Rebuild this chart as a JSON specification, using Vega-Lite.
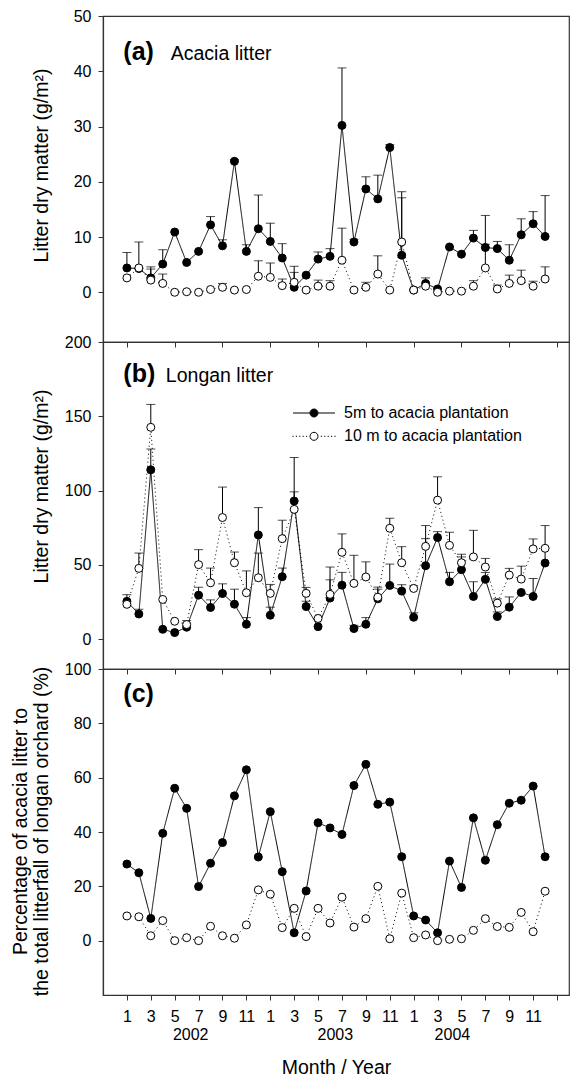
{
"$schema": "https://vega.github.io/schema/vega-lite/v6.json",
"padding": {"left": 9, "top": 7, "right": 0, "bottom": 0},
"background": "white",
"config": {
  "font": "Liberation Sans",
  "view": {"stroke": "#333", "strokeWidth": 1.2},
  "axis": {"grid": false, "domainColor": "#333", "domainWidth": 1.2, "tickColor": "#333", "tickSize": 5, "labelColor": "black", "titleColor": "black", "labelFont": "Liberation Sans", "titleFont": "Liberation Sans", "labelFontSize": 16, "titleFontSize": 19.5, "titleFontWeight": "normal", "labelPadding": 7}
},
"datasets": {
"a": [
{"m":1,"s":"5m","v":4.4,"e":7.2},{"m":1,"s":"10m","v":2.6,"e":null},
{"m":2,"s":"5m","v":4.3,"e":null},{"m":2,"s":"10m","v":4.4,"e":9.1},
{"m":3,"s":"5m","v":2.6,"e":4.6},{"m":3,"s":"10m","v":2.2,"e":4.2},
{"m":4,"s":"5m","v":5.1,"e":7.7},{"m":4,"s":"10m","v":1.6,"e":3.3},
{"m":5,"s":"5m","v":10.9,"e":null},{"m":5,"s":"10m","v":0.0,"e":null},
{"m":6,"s":"5m","v":5.4,"e":null},{"m":6,"s":"10m","v":0.1,"e":null},
{"m":7,"s":"5m","v":7.4,"e":null},{"m":7,"s":"10m","v":0.0,"e":null},
{"m":8,"s":"5m","v":12.2,"e":13.7},{"m":8,"s":"10m","v":0.5,"e":null},
{"m":9,"s":"5m","v":8.4,"e":9.5},{"m":9,"s":"10m","v":0.9,"e":1.6},
{"m":10,"s":"5m","v":23.7,"e":24.0},{"m":10,"s":"10m","v":0.4,"e":null},
{"m":11,"s":"5m","v":7.4,"e":8.6},{"m":11,"s":"10m","v":0.5,"e":null},
{"m":12,"s":"5m","v":11.5,"e":17.6},{"m":12,"s":"10m","v":2.9,"e":5.7},
{"m":13,"s":"5m","v":9.2,"e":12.5},{"m":13,"s":"10m","v":2.7,"e":5.3},
{"m":14,"s":"5m","v":6.2,"e":8.8},{"m":14,"s":"10m","v":1.2,"e":2.4},
{"m":15,"s":"5m","v":0.9,"e":3.6},{"m":15,"s":"10m","v":1.8,"e":4.7},
{"m":16,"s":"5m","v":3.1,"e":null},{"m":16,"s":"10m","v":0.4,"e":null},
{"m":17,"s":"5m","v":6.0,"e":7.3},{"m":17,"s":"10m","v":1.1,"e":2.2},
{"m":18,"s":"5m","v":6.5,"e":7.9},{"m":18,"s":"10m","v":1.1,"e":2.1},
{"m":19,"s":"5m","v":30.2,"e":40.6},{"m":19,"s":"10m","v":5.8,"e":11.6},
{"m":20,"s":"5m","v":9.1,"e":9.6},{"m":20,"s":"10m","v":0.4,"e":null},
{"m":21,"s":"5m","v":18.7,"e":20.9},{"m":21,"s":"10m","v":0.9,"e":1.8},
{"m":22,"s":"5m","v":16.9,"e":21.2},{"m":22,"s":"10m","v":3.3,"e":6.6},
{"m":23,"s":"5m","v":26.2,"e":26.7},{"m":23,"s":"10m","v":0.4,"e":null},
{"m":24,"s":"5m","v":6.7,"e":17.1},{"m":24,"s":"10m","v":9.1,"e":18.2},
{"m":25,"s":"5m","v":0.4,"e":null},{"m":25,"s":"10m","v":0.4,"e":null},
{"m":26,"s":"5m","v":1.6,"e":2.6},{"m":26,"s":"10m","v":1.1,"e":null},
{"m":27,"s":"5m","v":0.6,"e":null},{"m":27,"s":"10m","v":0.0,"e":null},
{"m":28,"s":"5m","v":8.2,"e":null},{"m":28,"s":"10m","v":0.2,"e":null},
{"m":29,"s":"5m","v":6.9,"e":null},{"m":29,"s":"10m","v":0.2,"e":null},
{"m":30,"s":"5m","v":9.8,"e":11.2},{"m":30,"s":"10m","v":1.1,"e":2.1},
{"m":31,"s":"5m","v":8.1,"e":8.7},{"m":31,"s":"10m","v":4.4,"e":13.9},
{"m":32,"s":"5m","v":7.9,"e":9.2},{"m":32,"s":"10m","v":0.6,"e":1.3},
{"m":33,"s":"5m","v":5.8,"e":8.6},{"m":33,"s":"10m","v":1.6,"e":3.1},
{"m":34,"s":"5m","v":10.4,"e":13.3},{"m":34,"s":"10m","v":2.1,"e":4.0},
{"m":35,"s":"5m","v":12.4,"e":14.6},{"m":35,"s":"10m","v":1.1,"e":2.0},
{"m":36,"s":"5m","v":10.1,"e":17.5},{"m":36,"s":"10m","v":2.4,"e":4.6}
],
"b": [
{"m":1,"s":"5m","v":25.5,"e":30.0},{"m":1,"s":"10m","v":23.5,"e":null},
{"m":2,"s":"5m","v":17.0,"e":20.2},{"m":2,"s":"10m","v":47.7,"e":58.0},
{"m":3,"s":"5m","v":114.0,"e":128.0},{"m":3,"s":"10m","v":142.6,"e":158.0},
{"m":4,"s":"5m","v":6.7,"e":null},{"m":4,"s":"10m","v":26.8,"e":null},
{"m":5,"s":"5m","v":4.5,"e":null},{"m":5,"s":"10m","v":12.1,"e":null},
{"m":6,"s":"5m","v":8.1,"e":11.0},{"m":6,"s":"10m","v":9.9,"e":12.6},
{"m":7,"s":"5m","v":29.7,"e":35.0},{"m":7,"s":"10m","v":50.2,"e":60.3},
{"m":8,"s":"5m","v":21.4,"e":26.5},{"m":8,"s":"10m","v":38.0,"e":47.9},
{"m":9,"s":"5m","v":30.8,"e":37.3},{"m":9,"s":"10m","v":81.9,"e":102.4},
{"m":10,"s":"5m","v":23.6,"e":33.7},{"m":10,"s":"10m","v":51.5,"e":58.7},
{"m":11,"s":"5m","v":10.1,"e":14.6},{"m":11,"s":"10m","v":31.3,"e":46.0},
{"m":12,"s":"5m","v":70.2,"e":88.6},{"m":12,"s":"10m","v":41.4,"e":58.0},
{"m":13,"s":"5m","v":16.2,"e":21.6},{"m":13,"s":"10m","v":30.9,"e":36.9},
{"m":14,"s":"5m","v":42.1,"e":47.9},{"m":14,"s":"10m","v":67.7,"e":80.1},
{"m":15,"s":"5m","v":93.0,"e":122.3},{"m":15,"s":"10m","v":87.4,"e":99.2},
{"m":16,"s":"5m","v":22.0,"e":25.6},{"m":16,"s":"10m","v":30.9,"e":34.9},
{"m":17,"s":"5m","v":8.5,"e":null},{"m":17,"s":"10m","v":14.0,"e":null},
{"m":18,"s":"5m","v":27.7,"e":40.0},{"m":18,"s":"10m","v":30.2,"e":48.6},
{"m":19,"s":"5m","v":36.4,"e":45.0},{"m":19,"s":"10m","v":58.5,"e":70.9},
{"m":20,"s":"5m","v":7.2,"e":9.4},{"m":20,"s":"10m","v":37.6,"e":56.5},
{"m":21,"s":"5m","v":10.1,"e":14.6},{"m":21,"s":"10m","v":41.9,"e":52.1},
{"m":22,"s":"5m","v":27.2,"e":35.1},{"m":22,"s":"10m","v":28.3,"e":33.7},
{"m":23,"s":"5m","v":36.2,"e":50.6},{"m":23,"s":"10m","v":74.7,"e":81.4},
{"m":24,"s":"5m","v":32.4,"e":36.7},{"m":24,"s":"10m","v":51.5,"e":62.3},
{"m":25,"s":"5m","v":14.8,"e":17.8},{"m":25,"s":"10m","v":34.2,"e":36.0},
{"m":26,"s":"5m","v":49.5,"e":67.7},{"m":26,"s":"10m","v":62.5,"e":76.5},
{"m":27,"s":"5m","v":68.4,"e":72.4},{"m":27,"s":"10m","v":93.6,"e":109.3},
{"m":28,"s":"5m","v":38.7,"e":45.0},{"m":28,"s":"10m","v":63.2,"e":72.0},
{"m":29,"s":"5m","v":46.8,"e":55.4},{"m":29,"s":"10m","v":51.5,"e":57.2},
{"m":30,"s":"5m","v":28.8,"e":38.7},{"m":30,"s":"10m","v":55.4,"e":73.3},
{"m":31,"s":"5m","v":40.3,"e":44.9},{"m":31,"s":"10m","v":48.6,"e":54.4},
{"m":32,"s":"5m","v":15.3,"e":18.4},{"m":32,"s":"10m","v":24.3,"e":27.2},
{"m":33,"s":"5m","v":21.6,"e":28.5},{"m":33,"s":"10m","v":43.2,"e":47.7},
{"m":34,"s":"5m","v":31.5,"e":null},{"m":34,"s":"10m","v":40.5,"e":49.2},
{"m":35,"s":"5m","v":28.8,"e":40.9},{"m":35,"s":"10m","v":60.8,"e":67.5},
{"m":36,"s":"5m","v":51.3,"e":76.5},{"m":36,"s":"10m","v":61.2,"e":null}
],
"c": [
{"m":1,"s":"5m","v":28.2},{"m":1,"s":"10m","v":9.1},
{"m":2,"s":"5m","v":25.0},{"m":2,"s":"10m","v":8.8},
{"m":3,"s":"5m","v":8.2},{"m":3,"s":"10m","v":1.8},
{"m":4,"s":"5m","v":39.5},{"m":4,"s":"10m","v":7.4},
{"m":5,"s":"5m","v":56.1},{"m":5,"s":"10m","v":0.0},
{"m":6,"s":"5m","v":48.7},{"m":6,"s":"10m","v":1.1},
{"m":7,"s":"5m","v":19.9},{"m":7,"s":"10m","v":0.0},
{"m":8,"s":"5m","v":28.5},{"m":8,"s":"10m","v":5.3},
{"m":9,"s":"5m","v":36.1},{"m":9,"s":"10m","v":1.8},
{"m":10,"s":"5m","v":53.3},{"m":10,"s":"10m","v":0.9},
{"m":11,"s":"5m","v":62.9},{"m":11,"s":"10m","v":5.8},
{"m":12,"s":"5m","v":30.8},{"m":12,"s":"10m","v":18.7},
{"m":13,"s":"5m","v":47.5},{"m":13,"s":"10m","v":17.1},
{"m":14,"s":"5m","v":25.4},{"m":14,"s":"10m","v":4.8},
{"m":15,"s":"5m","v":2.9},{"m":15,"s":"10m","v":11.9},
{"m":16,"s":"5m","v":18.3},{"m":16,"s":"10m","v":1.5},
{"m":17,"s":"5m","v":43.4},{"m":17,"s":"10m","v":11.9},
{"m":18,"s":"5m","v":41.5},{"m":18,"s":"10m","v":6.5},
{"m":19,"s":"5m","v":39.1},{"m":19,"s":"10m","v":16.0},
{"m":20,"s":"5m","v":57.1},{"m":20,"s":"10m","v":5.0},
{"m":21,"s":"5m","v":64.9},{"m":21,"s":"10m","v":8.1},
{"m":22,"s":"5m","v":50.2},{"m":22,"s":"10m","v":20.0},
{"m":23,"s":"5m","v":51.0},{"m":23,"s":"10m","v":0.7},
{"m":24,"s":"5m","v":30.9},{"m":24,"s":"10m","v":17.5},
{"m":25,"s":"5m","v":9.1},{"m":25,"s":"10m","v":1.1},
{"m":26,"s":"5m","v":7.6},{"m":26,"s":"10m","v":2.1},
{"m":27,"s":"5m","v":2.9},{"m":27,"s":"10m","v":0.0},
{"m":28,"s":"5m","v":29.3},{"m":28,"s":"10m","v":0.5},
{"m":29,"s":"5m","v":19.6},{"m":29,"s":"10m","v":0.7},
{"m":30,"s":"5m","v":45.2},{"m":30,"s":"10m","v":3.8},
{"m":31,"s":"5m","v":29.6},{"m":31,"s":"10m","v":8.1},
{"m":32,"s":"5m","v":42.7},{"m":32,"s":"10m","v":5.2},
{"m":33,"s":"5m","v":50.6},{"m":33,"s":"10m","v":4.9},
{"m":34,"s":"5m","v":51.7},{"m":34,"s":"10m","v":10.4},
{"m":35,"s":"5m","v":56.9},{"m":35,"s":"10m","v":3.3},
{"m":36,"s":"5m","v":30.9},{"m":36,"s":"10m","v":18.2}
]
},
"bounds": "flush",
"spacing": 0,
"resolve": {"scale": {"fill": "independent", "stroke": "independent"}},
"vconcat": [
{
  "width": 466, "height": 326,
  "data": {"name": "a"},
  "layer": [
    {"mark": {"type": "line", "color": "black", "strokeWidth": 1},
     "encoding": {
       "x": {"field": "m", "type": "quantitative", "scale": {"domain": [-1, 38], "nice": false, "zero": false},
         "axis": {"values": [1,3,5,7,9,11,13,15,17,19,21,23,25,27,29,31,33,35,37], "labels": false, "title": null}},
       "y": {"field": "v", "type": "quantitative", "scale": {"domain": [-9, 50], "nice": false, "zero": false},
         "axis": {"values": [0,10,20,30,40,50], "title": "Litter dry matter (g/m²)", "titleX": -56, "titleY": 149, "titleBaseline": "alphabetic", "titleAlign": "center", "titleAngle": 270}},
       "detail": {"field": "s"},
       "strokeDash": {"condition": {"test": "datum.s == '10m'", "value": [1, 3]}, "value": [1, 0]}}},
    {"transform": [{"filter": "datum.e != null"}],
     "mark": {"type": "rule", "color": "black", "strokeWidth": 1},
     "encoding": {
       "x": {"field": "m", "type": "quantitative", "scale": {"domain": [-1, 38], "nice": false, "zero": false}},
       "y": {"field": "v", "type": "quantitative", "scale": {"domain": [-9, 50], "nice": false, "zero": false}},
       "y2": {"field": "e"}}},
    {"transform": [{"filter": "datum.e != null"}],
     "mark": {"type": "tick", "orient": "horizontal", "size": 9, "thickness": 1, "color": "black"},
     "encoding": {
       "x": {"field": "m", "type": "quantitative", "scale": {"domain": [-1, 38], "nice": false, "zero": false}},
       "y": {"field": "e", "type": "quantitative", "scale": {"domain": [-9, 50], "nice": false, "zero": false}}}},
    {"mark": {"type": "circle", "size": 64, "stroke": "black", "strokeWidth": 1, "opacity": 1},
     "encoding": {
       "x": {"field": "m", "type": "quantitative", "scale": {"domain": [-1, 38], "nice": false, "zero": false}},
       "y": {"field": "v", "type": "quantitative", "scale": {"domain": [-9, 50], "nice": false, "zero": false}},
       "fill": {"condition": {"test": "datum.s == '5m'", "value": "black"}, "value": "white"}}},
    {"data": {"values": [{"t": "(a)"}]},
     "mark": {"type": "text", "align": "left", "baseline": "alphabetic", "fontSize": 25, "fontWeight": "bold", "color": "black"},
     "encoding": {"x": {"datum": 0.7, "type": "quantitative", "scale": {"domain": [-1, 38], "nice": false, "zero": false}},
                  "y": {"datum": 42.1, "type": "quantitative", "scale": {"domain": [-9, 50], "nice": false, "zero": false}},
                  "text": {"field": "t"}}},
    {"data": {"values": [{"t": "Acacia litter"}]},
     "mark": {"type": "text", "align": "left", "baseline": "alphabetic", "fontSize": 19.5, "color": "black"},
     "encoding": {"x": {"datum": 4.67, "type": "quantitative", "scale": {"domain": [-1, 38], "nice": false, "zero": false}},
                  "y": {"datum": 42.1, "type": "quantitative", "scale": {"domain": [-9, 50], "nice": false, "zero": false}},
                  "text": {"field": "t"}}}
  ]
},
{
  "width": 466, "height": 327,
  "data": {"name": "b"},
  "layer": [
    {"mark": {"type": "line", "color": "black", "strokeWidth": 1},
     "encoding": {
       "x": {"field": "m", "type": "quantitative", "scale": {"domain": [-1, 38], "nice": false, "zero": false},
         "axis": {"values": [1,3,5,7,9,11,13,15,17,19,21,23,25,27,29,31,33,35,37], "labels": false, "title": null}},
       "y": {"field": "v", "type": "quantitative", "scale": {"domain": [-20, 200], "nice": false, "zero": false},
         "axis": {"values": [0,50,100,150,200], "title": "Litter dry matter (g/m²)", "titleX": -56, "titleY": 144, "titleBaseline": "alphabetic", "titleAlign": "center", "titleAngle": 270}},
       "detail": {"field": "s"},
       "strokeDash": {"condition": {"test": "datum.s == '10m'", "value": [1, 3]}, "value": [1, 0]}}},
    {"transform": [{"filter": "datum.e != null"}],
     "mark": {"type": "rule", "color": "black", "strokeWidth": 1},
     "encoding": {
       "x": {"field": "m", "type": "quantitative", "scale": {"domain": [-1, 38], "nice": false, "zero": false}},
       "y": {"field": "v", "type": "quantitative", "scale": {"domain": [-20, 200], "nice": false, "zero": false}},
       "y2": {"field": "e"}}},
    {"transform": [{"filter": "datum.e != null"}],
     "mark": {"type": "tick", "orient": "horizontal", "size": 9, "thickness": 1, "color": "black"},
     "encoding": {
       "x": {"field": "m", "type": "quantitative", "scale": {"domain": [-1, 38], "nice": false, "zero": false}},
       "y": {"field": "e", "type": "quantitative", "scale": {"domain": [-20, 200], "nice": false, "zero": false}}}},
    {"transform": [{"filter": "datum.s == '5m'"}],
     "mark": {"type": "circle", "size": 64, "stroke": "black", "strokeWidth": 1, "opacity": 1},
     "encoding": {
       "x": {"field": "m", "type": "quantitative", "scale": {"domain": [-1, 38], "nice": false, "zero": false}},
       "y": {"field": "v", "type": "quantitative", "scale": {"domain": [-20, 200], "nice": false, "zero": false}},
       "fill": {"field": "s", "type": "nominal", "scale": {"domain": ["5m"], "range": ["black"]},
         "legend": {"orient": "none", "legendX": 203, "legendY": 63, "title": null, "labelFontSize": 16, "labelFont": "Liberation Sans", "labelColor": "black", "labelLimit": 400, "symbolSize": 64, "labelOffset": 22, "padding": 0,
           "symbolType": "M-5.25,0L-1,0M1,0L5.25,0M-1,0A1,1,0,1,1,1,0A1,1,0,1,1,-1,0Z", "symbolStrokeColor": "black", "symbolStrokeWidth": 1, "symbolFillColor": "black",
           "labelExpr": "'5m to acacia plantation'"}}}},
    {"transform": [{"filter": "datum.s == '10m'"}],
     "mark": {"type": "circle", "size": 64, "fill": "white", "strokeWidth": 1, "opacity": 1},
     "encoding": {
       "x": {"field": "m", "type": "quantitative", "scale": {"domain": [-1, 38], "nice": false, "zero": false}},
       "y": {"field": "v", "type": "quantitative", "scale": {"domain": [-20, 200], "nice": false, "zero": false}},
       "stroke": {"field": "s", "type": "nominal", "scale": {"domain": ["10m"], "range": ["black"]},
         "legend": {"orient": "none", "legendX": 203, "legendY": 86.3, "title": null, "labelFontSize": 16, "labelFont": "Liberation Sans", "labelColor": "black", "labelLimit": 400, "symbolSize": 64, "labelOffset": 22, "padding": 0,
           "symbolType": "M-5.4,0h0.3M-4.55,0h0.3M-3.7,0h0.3M-2.85,0h0.3M-2.0,0h0.3M1.7,0h0.3M2.55,0h0.3M3.4,0h0.3M4.25,0h0.3M5.1,0h0.3M-1,0A1,1,0,1,1,1,0A1,1,0,1,1,-1,0Z", "symbolStrokeColor": "black", "symbolStrokeWidth": 1, "symbolFillColor": "white",
           "labelExpr": "'10 m to acacia plantation'"}}}},
    {"data": {"values": [{"t": "(b)"}]},
     "mark": {"type": "text", "align": "left", "baseline": "alphabetic", "fontSize": 25, "fontWeight": "bold", "color": "black"},
     "encoding": {"x": {"datum": 0.7, "type": "quantitative", "scale": {"domain": [-1, 38], "nice": false, "zero": false}},
                  "y": {"datum": 172.8, "type": "quantitative", "scale": {"domain": [-20, 200], "nice": false, "zero": false}},
                  "text": {"field": "t"}}},
    {"data": {"values": [{"t": "Longan litter"}]},
     "mark": {"type": "text", "align": "left", "baseline": "alphabetic", "fontSize": 19.5, "color": "black"},
     "encoding": {"x": {"datum": 4.26, "type": "quantitative", "scale": {"domain": [-1, 38], "nice": false, "zero": false}},
                  "y": {"datum": 172.8, "type": "quantitative", "scale": {"domain": [-20, 200], "nice": false, "zero": false}},
                  "text": {"field": "t"}}}
  ]
},
{
  "width": 466, "height": 326,
  "data": {"name": "c"},
  "resolve": {"scale": {"x": "independent"}},
  "layer": [
    {"mark": {"type": "line", "color": "black", "strokeWidth": 1},
     "encoding": {
       "x": {"field": "m", "type": "quantitative", "scale": {"domain": [-1, 38], "nice": false, "zero": false},
         "axis": {"values": [1,3,5,7,9,11,13,15,17,19,21,23,25,27,29,31,33,35,37], "labelPadding": 8,
           "labelExpr": "datum.value <= 35 ? '' + ((datum.value - 1) % 12 + 1) : ''",
           "title": "Month / Year", "titleY": 63, "titleBaseline": "top"}},
       "y": {"field": "v", "type": "quantitative", "scale": {"domain": [-20, 100], "nice": false, "zero": false},
         "axis": {"values": [0,20,40,60,80,100], "title": ["Percentage of acacia litter to", "the total litterfall of longan orchard (%)"], "titleX": -77, "titleY": 162, "titleBaseline": "alphabetic", "titleAlign": "center", "titleAngle": 270, "titleLineHeight": 21}},
       "detail": {"field": "s"},
       "strokeDash": {"condition": {"test": "datum.s == '10m'", "value": [1, 3]}, "value": [1, 0]}}},
    {"mark": {"type": "circle", "size": 64, "stroke": "black", "strokeWidth": 1, "opacity": 1},
     "encoding": {
       "x": {"field": "m", "type": "quantitative", "scale": {"domain": [-1, 38], "nice": false, "zero": false},
         "axis": {"orient": "bottom", "values": [6.3, 18.4, 28.2], "ticks": false, "domain": false, "labelPadding": 31,
           "labelExpr": "datum.value < 10 ? '2002' : datum.value < 20 ? '2003' : '2004'", "title": null}},
       "y": {"field": "v", "type": "quantitative", "scale": {"domain": [-20, 100], "nice": false, "zero": false}},
       "fill": {"condition": {"test": "datum.s == '5m'", "value": "black"}, "value": "white"}}},
    {"data": {"values": [{"t": "(c)"}]},
     "mark": {"type": "text", "align": "left", "baseline": "alphabetic", "fontSize": 25, "fontWeight": "bold", "color": "black"},
     "encoding": {"x": {"datum": 0.7, "type": "quantitative", "scale": {"domain": [-1, 38], "nice": false, "zero": false}, "axis": null},
                  "y": {"datum": 87.7, "type": "quantitative", "scale": {"domain": [-20, 100], "nice": false, "zero": false}},
                  "text": {"field": "t"}}}
  ]
}
]
}
